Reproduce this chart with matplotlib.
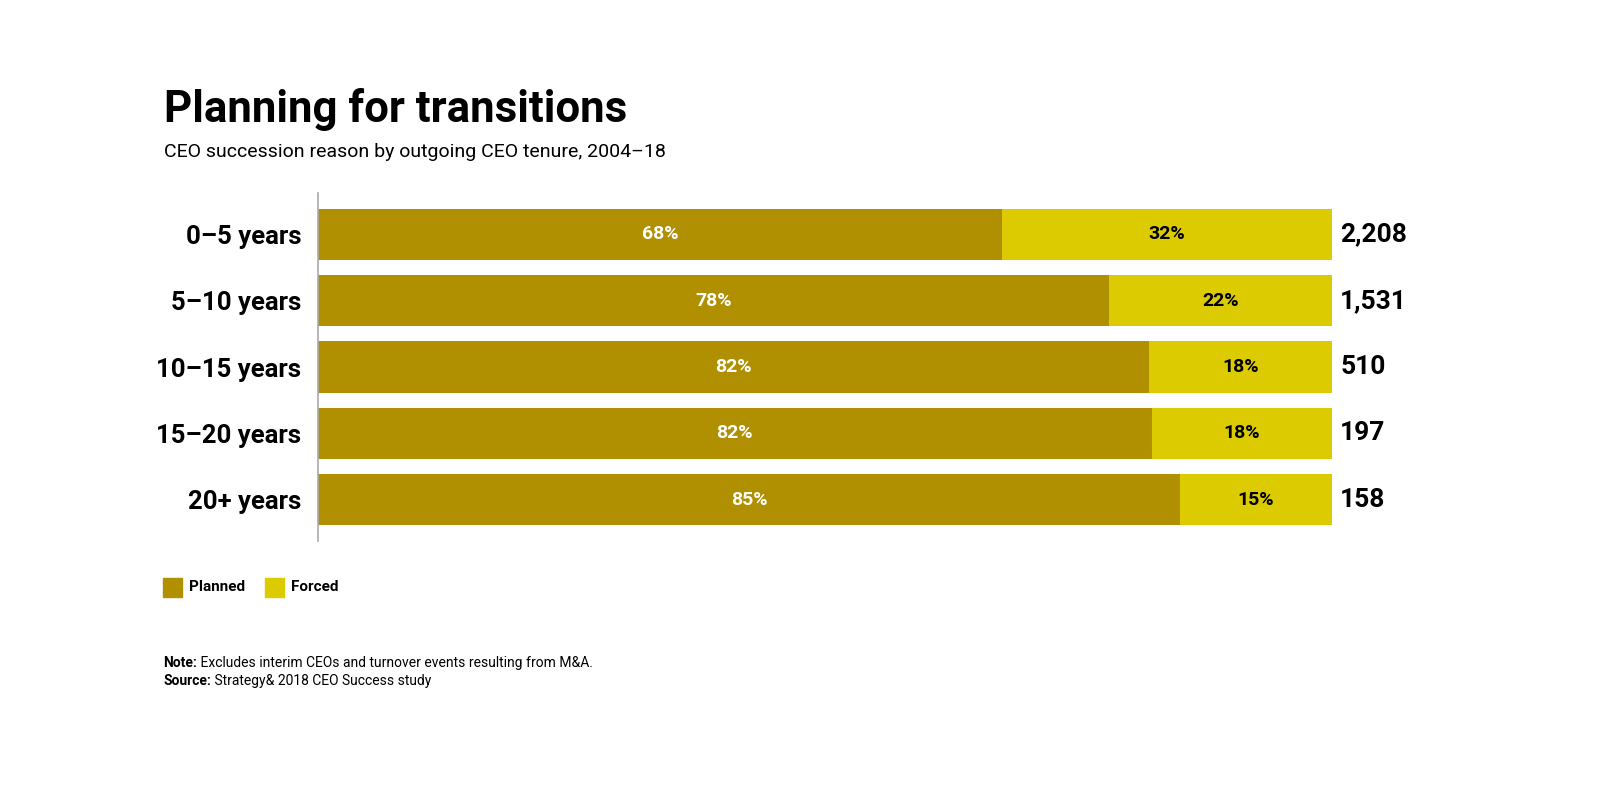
import matplotlib
matplotlib.use("Agg")
import matplotlib.pyplot as plt
from matplotlib.patches import Rectangle

categories = ["0–5 years", "5–10 years", "10–15 years", "15–20 years", "20+ years"]
planned = [67.5, 78, 82, 82.2, 85]
forced = [32.5, 22, 18, 17.8, 15]
planned_labels = ["68%", "78%", "82%", "82%", "85%"]
forced_labels = ["32%", "22%", "18%", "18%", "15%"]
totals = ["2,208", "1,531", "510", "197", "158"]

C_PLAN = "#B08F00"
C_FORCE = "#DCCB00"
FONT = ["Roboto", "DejaVu Sans"]
plt.rcParams["font.family"] = FONT

fig = plt.figure(figsize=(16, 8), dpi=100)
ax = fig.add_axes([318/1600, 1-541/800, 1014/1600, 348/800])
y = list(range(len(categories)))
ax.barh(y, planned, height=0.77, color=C_PLAN)
ax.barh(y, forced, left=planned, height=0.77, color=C_FORCE)
ax.set_xlim(0, 100)
ax.set_ylim(len(categories) - 1 + 0.626, -0.626)
for s in ["top", "right", "bottom"]:
    ax.spines[s].set_visible(False)
ax.spines["left"].set_color("#aaaaaa")
ax.spines["left"].set_linewidth(1.2)
ax.set_xticks([])
ax.set_yticks(y)
ax.set_yticklabels(categories, fontsize=18.5, fontweight="bold")
ax.tick_params(axis="y", length=0, pad=12)

for i in y:
    ax.text(planned[i] / 2, i, planned_labels[i], ha="center", va="center",
            color="white", fontsize=14, fontweight="bold")
    ax.text(planned[i] + forced[i] / 2, i, forced_labels[i], ha="center", va="center",
            color="black", fontsize=14, fontweight="bold")
    ax.text(100.8, i, totals[i], ha="left", va="center", color="black",
            fontsize=19, fontweight="bold", clip_on=False)

fig.text(164/1600, 1-122/800, "Planning for transitions", fontsize=31.5, fontweight="bold",
         ha="left", va="baseline")
fig.text(164/1600, 1-157/800, "CEO succession reason by outgoing CEO tenure, 2004–18",
         fontsize=14, ha="left", va="baseline")

# legend
for x0, col, lab in [(163, C_PLAN, "Planned"), (265, C_FORCE, "Forced")]:
    fig.patches.append(Rectangle((x0/1600, 1-597/800), 19/1600, 19/800,
                                 transform=fig.transFigure, color=col))
    fig.text((x0 + 26)/1600, 1-587/800, lab, fontsize=11, fontweight="bold",
             ha="left", va="center")

renderer = fig.canvas.get_renderer()
for ypix, bold, rest in [(667, "Note:", " Excludes interim CEOs and turnover events resulting from M&A."),
                         (685, "Source:", " Strategy& 2018 CEO Success study")]:
    t = fig.text(163/1600, 1-ypix/800, bold, fontsize=10, fontweight="bold",
                 ha="left", va="baseline")
    bb = t.get_window_extent(renderer)
    fig.text(bb.x1/1600, 1-ypix/800, rest, fontsize=10, ha="left", va="baseline")

fig.savefig("out.png", dpi=100, facecolor="white")
